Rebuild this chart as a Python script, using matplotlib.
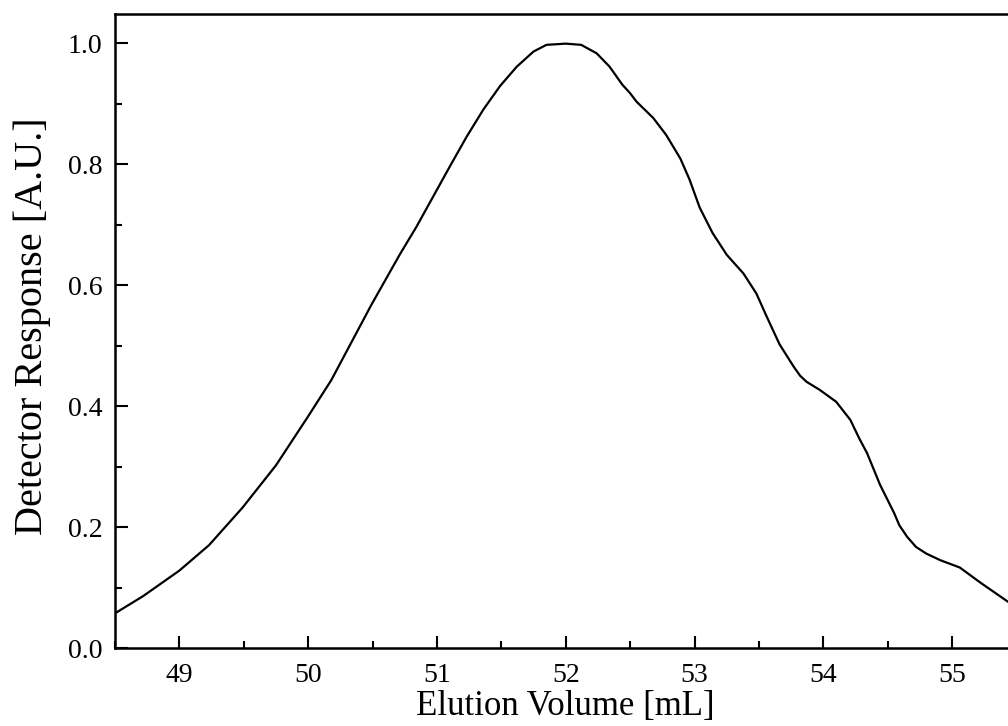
import matplotlib
matplotlib.use("Agg")
import matplotlib.pyplot as plt
from matplotlib.ticker import MultipleLocator

# Data
volume = [48.49, 48.72, 49.00, 49.23, 49.49, 49.75, 50.00, 50.18, 50.49, 50.71,
          50.84, 50.97, 51.10, 51.23, 51.36, 51.49, 51.62, 51.75, 51.85, 52.00,
          52.12, 52.24, 52.29, 52.34, 52.44, 52.50, 52.55, 52.68, 52.78, 52.89,
          52.96, 53.04, 53.14, 53.25, 53.38, 53.48, 53.56, 53.66, 53.77, 53.82,
          53.87, 53.97, 54.10, 54.21, 54.28, 54.34, 54.44, 54.55, 54.59, 54.65,
          54.72, 54.80, 54.91, 55.06, 55.22, 55.43]
response = [0.056, 0.086, 0.128, 0.170, 0.232, 0.302, 0.383, 0.443, 0.567, 0.650,
            0.696, 0.746, 0.796, 0.845, 0.890, 0.929, 0.961, 0.986, 0.997, 0.999,
            0.997, 0.983, 0.972, 0.961, 0.931, 0.917, 0.903, 0.876, 0.848, 0.809,
            0.775, 0.728, 0.686, 0.650, 0.619, 0.586, 0.548, 0.502, 0.465, 0.450,
            0.440, 0.427, 0.407, 0.377, 0.346, 0.322, 0.270, 0.223, 0.203, 0.184,
            0.167, 0.156, 0.145, 0.133, 0.108, 0.077]

plt.rcParams['font.family'] = ['Liberation Serif', 'DejaVu Serif']
plt.rcParams['font.size'] = 20

fig = plt.figure(figsize=(10.08, 7.26), dpi=100)
# axes run past the right edge of the figure, as in the reference
ax = fig.add_axes([115 / 1008, 78 / 726, (1016.5 - 115) / 1008, (648 - 14) / 726])

ax.plot(volume, response, color='black', lw=1.6)

ax.set_xlim(48.5, 55.5)
ax.set_ylim(0.0, 1.048)
ax.xaxis.set_major_locator(MultipleLocator(1))
ax.xaxis.set_minor_locator(MultipleLocator(0.5))
ax.yaxis.set_major_locator(MultipleLocator(0.2))
ax.yaxis.set_minor_locator(MultipleLocator(0.1))
ax.yaxis.set_major_formatter(plt.FormatStrFormatter('%.1f'))

ax.tick_params(which='both', direction='in', width=1.5, top=False, right=False)
ax.tick_params(which='major', length=9)
ax.tick_params(axis='x', which='major', pad=11)
ax.tick_params(axis='y', which='major', pad=9)
ax.tick_params(which='minor', length=5)
for sp in ax.spines.values():
    sp.set_linewidth(1.8)

ax.set_xlabel('Elution Volume [mL]', fontsize=25, labelpad=1)
ax.set_ylabel('Detector Response [A.U.]', fontsize=29)
ax.yaxis.set_label_coords(-0.071, 0.508)

fig.savefig('out.png', dpi=100)
